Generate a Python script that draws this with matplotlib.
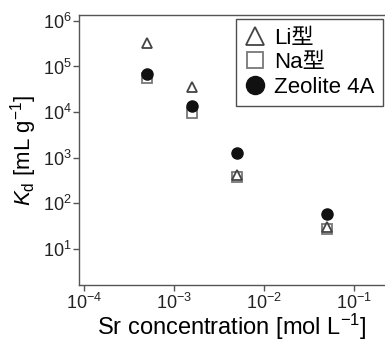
import numpy as np
import matplotlib.pyplot as plt
from matplotlib.ticker import LogLocator, NullLocator

plt.rcParams['font.family'] = ['Liberation Sans', 'Noto Sans CJK JP']
plt.rcParams['mathtext.fontset'] = 'custom'
plt.rcParams['mathtext.rm'] = 'Liberation Sans'
plt.rcParams['mathtext.it'] = 'Liberation Sans:italic'

# Sr concentration [mol/L]
conc = [5e-4, 1.6e-3, 5e-3, 5e-2]
# Kd [mL/g]
kd_li = [3.3e5, 3.5e4, 420, 30]
kd_na = [5.6e4, 9.6e3, 380, 27]
kd_zeo = [6.9e4, 1.35e4, 1.26e3, 57]

fig = plt.figure(figsize=(3.85, 3.4), dpi=100)
ax = fig.add_axes([79 / 385, 1 - 285 / 340, 1 - 79 / 385, (285 - 15) / 340])

spine_c = '#555555'
na, = ax.plot(conc, kd_na, 's', ms=6.5, mfc='white', mec='#777777', mew=1.3, ls='none', label='Na型', zorder=3)
li, = ax.plot(conc, kd_li, '^', ms=7, mfc='white', mec='#444444', mew=1.3, ls='none', label='Li型', zorder=4)
zeo, = ax.plot(conc, kd_zeo, 'o', ms=8, mfc='#111111', mec='#111111', ls='none', label='Zeolite 4A', zorder=5)

ax.set_xscale('log')
ax.set_yscale('log')
ax.set_xlim(10 ** -4.056, 10 ** -0.656)
ax.set_ylim(10 ** 0.2, 10 ** 6.13)
ax.xaxis.set_major_locator(LogLocator(base=10, numticks=10))
ax.yaxis.set_major_locator(LogLocator(base=10, numticks=10))
ax.xaxis.set_minor_locator(NullLocator())
ax.yaxis.set_minor_locator(NullLocator())

for s in ['left', 'bottom', 'top']:
    ax.spines[s].set_color(spine_c)
    ax.spines[s].set_linewidth(1.0)
ax.spines['right'].set_visible(False)
ax.tick_params(direction='out', length=4, width=1, color=spine_c, labelsize=13, pad=1, labelcolor='#222222')
ax.tick_params(axis='x', pad=1.5)

ax.set_xlabel('Sr concentration [mol L$^{-1}$]', fontsize=17, labelpad=-1)
ax.set_ylabel('$K_\\mathrm{d}$ [mL g$^{-1}$]', fontsize=16, labelpad=3)

leg = ax.legend(handles=[li, na, zeo], loc='upper right', bbox_to_anchor=(0.995, 0.985),
                fontsize=16, frameon=True, fancybox=False,
                edgecolor='#222222', handlelength=0.9, handletextpad=0.4,
                borderpad=0.4, labelspacing=0.15, borderaxespad=0)
leg.get_frame().set_linewidth(1.0)
for h, size in zip(leg.legend_handles, [13, 11, 13]):
    h.set_markersize(size)

fig.savefig('out.png', dpi=100)
